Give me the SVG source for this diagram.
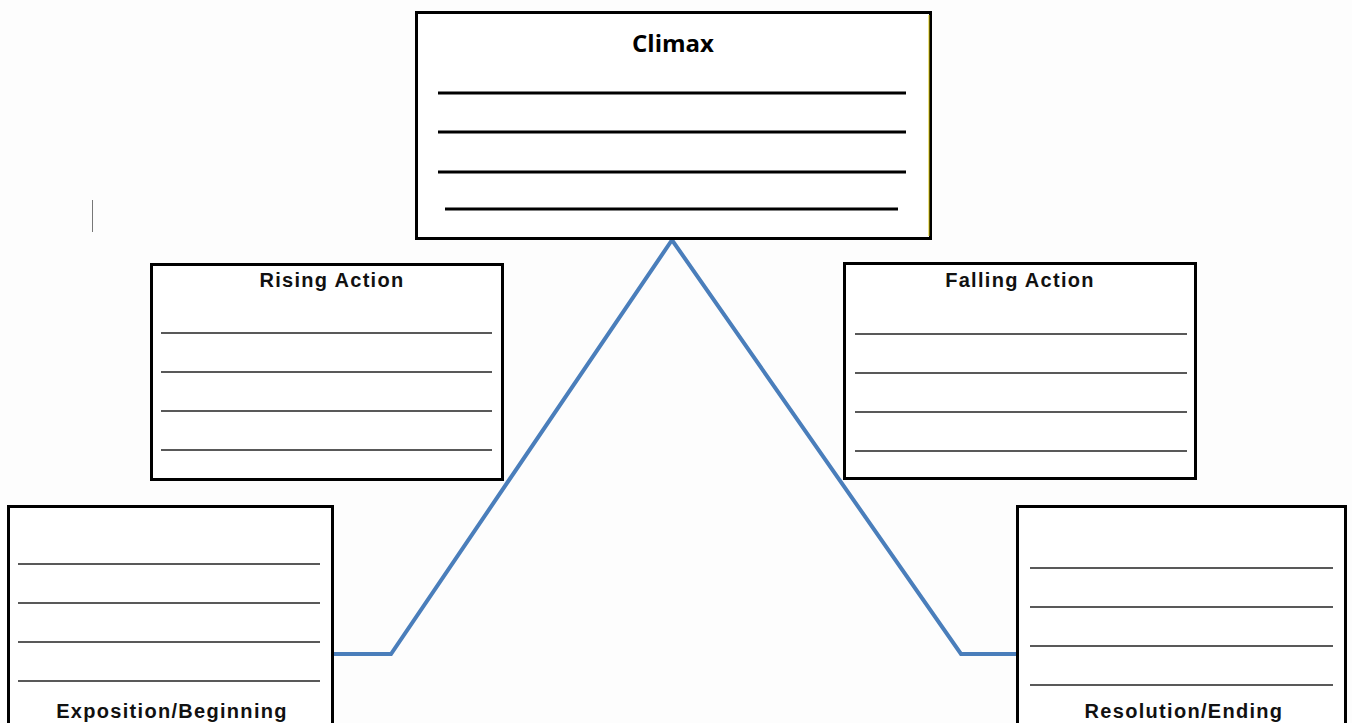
<svg xmlns="http://www.w3.org/2000/svg" width="1352" height="723" viewBox="0 0 1352 723">
<style>
.box{fill:#fff;stroke:#000;stroke-width:3}
.ln{stroke:#222;stroke-width:1.5}
.tl{stroke:#000;stroke-width:3}
.ttl{font-family:"Liberation Sans",Arial,sans-serif;font-weight:bold;font-size:20px;letter-spacing:1.3px;fill:#111;text-anchor:middle}
.cl{font-family:"Open Sans","Liberation Sans",sans-serif;font-weight:bold;font-size:24px;fill:#000;text-anchor:middle}
</style>
<rect width="1352" height="723" fill="#fdfdfd"/>
<line x1="92.5" y1="200" x2="92.5" y2="232" stroke="#777" stroke-width="1"/>
<g id="connectors">
<polyline points="333,654 391,654 672,240 961,654 1017,654" fill="none" stroke="#4a7ebb" stroke-width="4" stroke-linejoin="miter"/>
</g>
<g id="climax">
<rect class="box" x="416.5" y="12.5" width="514" height="226"/>
<line x1="929" y1="15" x2="929" y2="236" stroke="#d8c400" stroke-width="1"/>
<text class="cl" x="673" y="52">Climax</text>
<line class="tl" x1="438" y1="93" x2="906" y2="93"/>
<line class="tl" x1="438" y1="132" x2="906" y2="132"/>
<line class="tl" x1="438" y1="172" x2="906" y2="172"/>
<line class="tl" x1="445" y1="209" x2="898" y2="209"/>
</g>
<g id="rising-action">
<rect class="box" x="151.5" y="264.5" width="351" height="215"/>
<text class="ttl" x="332" y="287">Rising Action</text>
<line class="ln" x1="161" y1="333" x2="492" y2="333"/>
<line class="ln" x1="161" y1="372" x2="492" y2="372"/>
<line class="ln" x1="161" y1="411" x2="492" y2="411"/>
<line class="ln" x1="161" y1="450" x2="492" y2="450"/>
</g>
<g id="falling-action">
<rect class="box" x="844.5" y="263.5" width="351" height="215"/>
<text class="ttl" x="1020" y="287">Falling Action</text>
<line class="ln" x1="855" y1="334" x2="1187" y2="334"/>
<line class="ln" x1="855" y1="373" x2="1187" y2="373"/>
<line class="ln" x1="855" y1="412" x2="1187" y2="412"/>
<line class="ln" x1="855" y1="451" x2="1187" y2="451"/>
</g>
<g id="exposition">
<rect class="box" x="8.5" y="506.5" width="324" height="230"/>
<line class="ln" x1="18" y1="564" x2="320" y2="564"/>
<line class="ln" x1="18" y1="603" x2="320" y2="603"/>
<line class="ln" x1="18" y1="642" x2="320" y2="642"/>
<line class="ln" x1="18" y1="681" x2="320" y2="681"/>
<text class="ttl" x="172" y="718">Exposition/Beginning</text>
</g>
<g id="resolution">
<rect class="box" x="1017.5" y="506.5" width="328" height="230"/>
<line class="ln" x1="1030" y1="568" x2="1333" y2="568"/>
<line class="ln" x1="1030" y1="607" x2="1333" y2="607"/>
<line class="ln" x1="1030" y1="646" x2="1333" y2="646"/>
<line class="ln" x1="1030" y1="685" x2="1333" y2="685"/>
<text class="ttl" x="1184" y="718">Resolution/Ending</text>
</g>
</svg>
